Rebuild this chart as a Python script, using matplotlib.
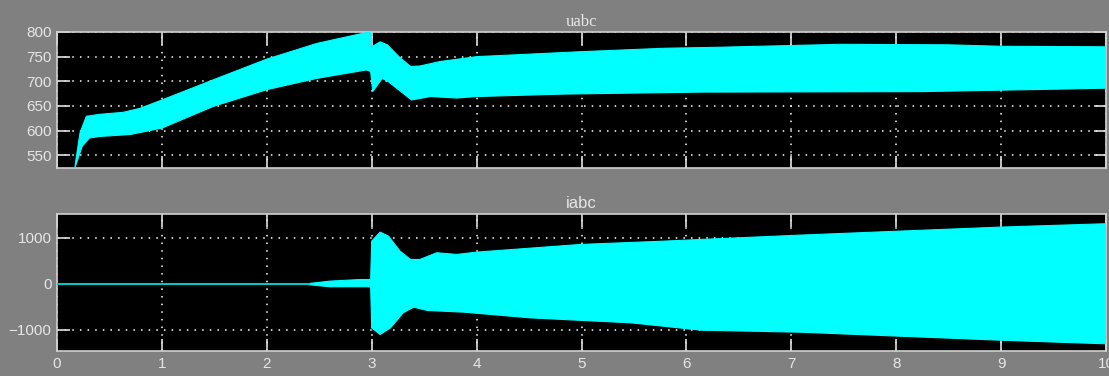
import matplotlib
matplotlib.use('Agg')
import matplotlib.pyplot as plt

# uabc envelope (upper / lower)
t_u_hi = [0.17, 0.18, 0.22, 0.28, 0.41, 0.63, 0.79, 1.0, 1.49, 2.0, 2.48, 2.95, 2.99,
          3.0, 3.08, 3.15, 3.26, 3.37, 3.46, 3.65, 4.0, 4.99, 5.79, 6.3, 7.47, 8.5, 9.0, 10.0]
u_hi = [524, 540, 596, 629, 633, 637, 645, 662, 703, 745, 777, 799, 800,
        770, 780, 774, 750, 730, 731, 740, 750, 760, 767, 769, 775, 774, 771, 770]
t_u_lo = [0.17, 0.24, 0.31, 0.41, 0.70, 1.0, 1.49, 2.0, 2.48, 2.95, 2.99,
          3.01, 3.1, 3.16, 3.38, 3.56, 3.81, 4.0, 4.83, 6.14, 8.24, 9.0, 9.54, 10.0]
u_lo = [524, 568, 585, 588, 592, 605, 649, 683, 706, 723, 720,
        679, 706, 699, 662, 669, 666, 669, 674, 678, 679, 682, 684, 686]

# iabc envelope
t_i_hi = [0.0, 2.38, 2.6, 2.89, 2.99, 3.0, 3.08, 3.16, 3.27, 3.37, 3.46, 3.62, 3.81,
          4.0, 4.99, 5.79, 6.14, 7.09, 8.04, 9.0, 10.0]
i_hi = [0, 0, 57, 93, 93, 926, 1122, 1035, 709, 528, 528, 674, 637,
        687, 854, 926, 963, 1057, 1144, 1231, 1304]
t_i_lo = [0.0, 2.38, 2.6, 2.89, 2.99, 3.0, 3.08, 3.18, 3.3, 3.4, 3.53, 3.88,
          4.51, 5.47, 6.14, 7.09, 8.04, 9.0, 10.0]
i_lo = [0, -15, -65, -65, -65, -957, -1102, -957, -630, -508, -580, -617,
        -740, -848, -1008, -1052, -1139, -1226, -1304]

x_ticks = list(range(11))
u_ticks = [550, 600, 650, 700, 750, 800]
i_ticks = [-1000, 0, 1000]

bg = '#808080'
fg = '#e6e6e6'
cyan = '#00ffff'

fig = plt.figure(figsize=(11.09, 3.76), dpi=100, facecolor=bg)
ax1 = fig.add_axes([57/1109, 1-168/376, (1106-57)/1109, (168-32)/376])
ax2 = fig.add_axes([57/1109, 1-351/376, (1106-57)/1109, (351-214)/376])


def style(ax, yticks):
    ax.set_facecolor('black')
    ax.set_xlim(0, 10)
    ax.set_xticks(x_ticks)
    ax.set_yticks(yticks)
    ax.grid(True, color='white', linestyle=(0, (1, 4)), linewidth=1.1)
    ax.tick_params(direction='in', length=9, width=1.2, color='#e0e0e0',
                   top=True, right=True, labelcolor=fg, labelsize=11, pad=4)
    for s in ax.spines.values():
        s.set_color('#d0d0d0')
        s.set_linewidth(1.2)
    for lab in ax.get_yticklabels() + ax.get_xticklabels():
        lab.set_family('Liberation Sans')


# band = upper envelope, then lower envelope walked backwards
ax1.fill(t_u_hi + t_u_lo[::-1], u_hi + u_lo[::-1], color=cyan, lw=0.8, zorder=3)
ax1.set_ylim(524, 800)
style(ax1, u_ticks)
ax1.tick_params(labelbottom=False)
ax1.set_title('uabc', color=fg, fontsize=12, family='Liberation Serif', pad=4)

ax2.fill(t_i_hi + t_i_lo[::-1], i_hi + i_lo[::-1], color=cyan, lw=0.8, zorder=3)
ax2.plot([0, 2.4], [0, 0], color='#00c8c8', lw=1.5, zorder=4)
ax2.set_ylim(-1460, 1515)
style(ax2, i_ticks)
ax2.set_title('iabc', color=fg, fontsize=12, family='Liberation Sans', pad=4)

fig.savefig('out.png', dpi=100, facecolor=bg)
